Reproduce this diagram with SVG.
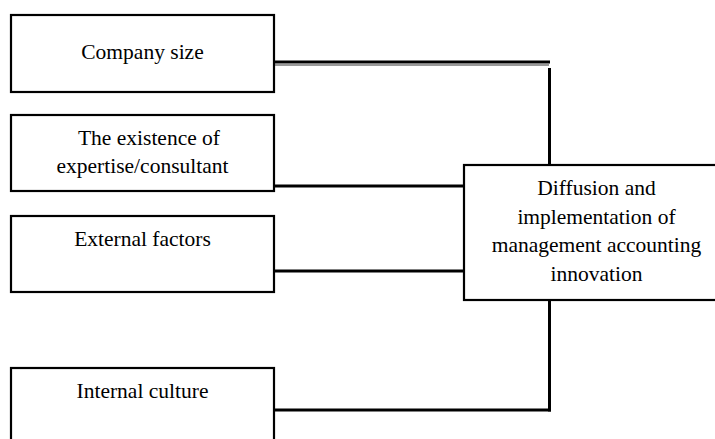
<svg xmlns="http://www.w3.org/2000/svg" width="715" height="439" viewBox="0 0 715 439">
<style>
.box{fill:#fff;stroke:#000;stroke-width:2.2}
.t{font-family:"Liberation Serif","Times New Roman",serif;font-size:21.5px;fill:#000;text-anchor:middle}
.c{fill:none;stroke:#000;stroke-width:3;stroke-linecap:butt;stroke-linejoin:miter}
.sh{fill:none;stroke:#999;stroke-width:2}
</style>
<rect width="715" height="439" fill="#fff"/>
<g id="connectors">
<line class="sh" x1="274" y1="65" x2="549" y2="65"/>
<line class="c" x1="274" y1="62" x2="550" y2="62"/>
<line class="c" x1="549.5" y1="68" x2="549.5" y2="165"/>
<line class="c" x1="274" y1="186" x2="464" y2="186"/>
<line class="c" x1="274" y1="271" x2="464" y2="271"/>
<line class="c" x1="549.5" y1="300" x2="549.5" y2="411.5"/>
<line class="c" x1="274" y1="410" x2="551" y2="410"/>
</g>
<g id="company-size">
<rect class="box" x="11" y="15" width="263" height="77"/>
<text class="t" x="142.5" y="59">Company size</text>
</g>
<g id="expertise">
<rect class="box" x="11" y="115" width="263" height="76"/>
<text class="t" x="149" y="145">The existence of</text>
<text class="t" x="142.5" y="173">expertise/consultant</text>
</g>
<g id="external-factors">
<rect class="box" x="11" y="216" width="263" height="76"/>
<text class="t" x="142.5" y="246">External factors</text>
</g>
<g id="internal-culture">
<rect class="box" x="11" y="368" width="263" height="80"/>
<text class="t" x="142.5" y="398">Internal culture</text>
</g>
<g id="diffusion">
<rect class="box" x="464" y="165" width="266" height="135"/>
<text class="t" x="596.5" y="195">Diffusion and</text>
<text class="t" x="596.5" y="223.5">implementation of</text>
<text class="t" x="596.5" y="252">management accounting</text>
<text class="t" x="596.5" y="280.5">innovation</text>
</g>
</svg>
